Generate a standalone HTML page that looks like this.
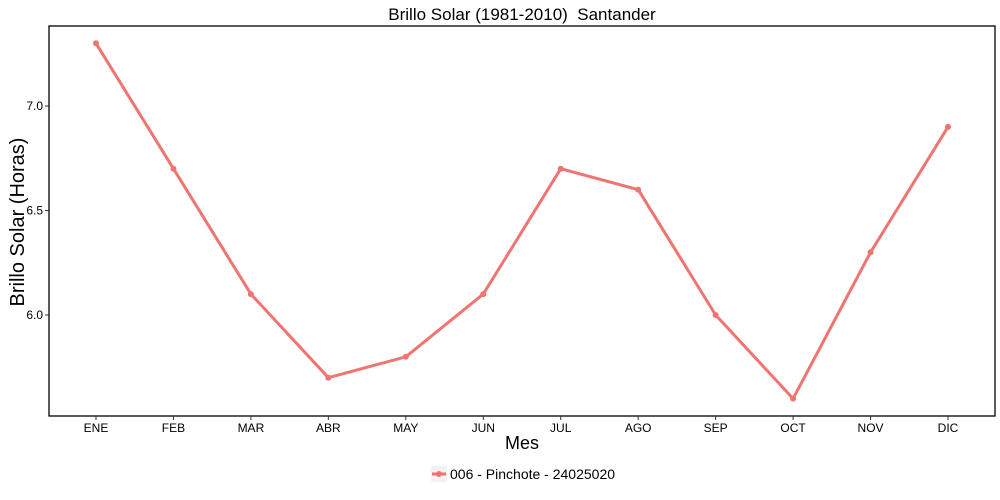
<!DOCTYPE html>
<html><head><meta charset="utf-8"><style>body{margin:0;background:#fff}svg{display:block;font-family:"Liberation Sans",Arial,sans-serif}</style></head>
<body>
<svg id="chart" width="1000" height="500">
<text x="522" y="20" font-size="17" text-anchor="middle" xml:space="preserve">Brillo Solar (1981-2010)  Santander</text>
<rect x="49" y="26" width="946" height="390" fill="none" stroke="#000" stroke-width="1.3"/>
<g id="yaxis"></g>
<g id="xaxis"></g>
<g id="series"></g>
<text x="522" y="449" font-size="18" text-anchor="middle">Mes</text>
<text transform="translate(24,222) rotate(-90)" font-size="20" text-anchor="middle">Brillo Solar (Horas)</text>
<g>
<rect x="431" y="466" width="16" height="16" fill="#f2f2f2"/>
<line x1="432" y1="474" x2="446" y2="474" stroke="#F07470" stroke-width="3"/>
<circle cx="439" cy="474" r="3" fill="#F07470"/>
<text x="450" y="479" font-size="14">006 - Pinchote - 24025020</text>
</g>
</svg>
<script>
const months=["ENE","FEB","MAR","ABR","MAY","JUN","JUL","AGO","SEP","OCT","NOV","DIC"];
const values=[7.3,6.7,6.1,5.7,5.8,6.1,6.7,6.6,6.0,5.6,6.3,6.9];
const yTicks=[6.0,6.5,7.0];
const yTickLabels=["6.0","6.5","7.0"];
const ns="http://www.w3.org/2000/svg";
const xs=i=>96+i*(852/11);
const ys=v=>315-(v-6)*209;
function mk(t,a,p){const e=document.createElementNS(ns,t);for(const k in a)e.setAttribute(k,a[k]);p.appendChild(e);return e;}
const ya=document.getElementById('yaxis'),xa=document.getElementById('xaxis'),sg=document.getElementById('series');
yTicks.forEach((v,i)=>{
 const l=mk('line',{x1:45,x2:49,y1:ys(v),y2:ys(v),stroke:'#333'},ya);
 
 
 const t=mk('text',{x:43,y:ys(v)+4,'font-size':12,'text-anchor':'end'},ya);
 
 
 t.textContent=yTickLabels[i];
});
months.forEach((m,i)=>{
 const l=mk('line',{x1:xs(i),x2:xs(i),y1:416,y2:420,stroke:'#333'},xa);
 
 
 const t=mk('text',{x:xs(i),y:432,'font-size':12,'text-anchor':'middle'},xa);
 
 
 t.textContent=m;
});
const pl=mk('polyline',{points:values.map((v,i)=>xs(i)+','+ys(v)).join(' '),fill:'none',stroke:'#F07470','stroke-width':3,'stroke-linejoin':'round'},sg);


values.forEach((v,i)=>{
 const c=mk('circle',{cx:xs(i),cy:ys(v),r:3,fill:'#F07470'},sg);
 
 
});
</script>
</body></html>
